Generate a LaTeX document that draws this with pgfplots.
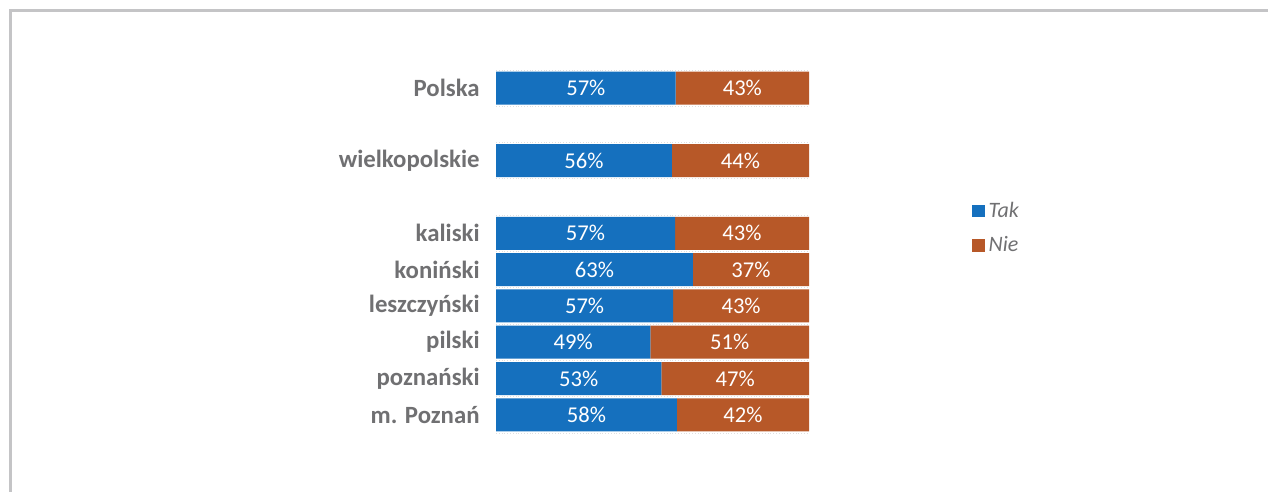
\documentclass[border=0pt]{standalone}
\usepackage{pgfplots}
\pgfplotsset{compat=1.18}
\usepackage{pgfplotstable}
\usepackage{fontspec}
\setmainfont{Carlito}
\definecolor{tak}{RGB}{21,112,190}
\definecolor{nie}{RGB}{183,88,40}
\definecolor{lab}{RGB}{112,112,114}
\definecolor{framec}{RGB}{196,196,198}
\pgfplotstableread{
y tak nie
9 57.4 42.6
7 56.2 43.8
5 57.2 42.8
4 62.9 37.1
3 56.6 43.4
2 49.3 50.7
1 52.8 47.2
0 57.8 42.2
}\data
\begin{document}
\begin{tikzpicture}[x=0.5pt,y=0.5pt]
\useasboundingbox (0,0) rectangle (1268,492);
\draw[framec, line width=1.5pt] (1290,481) -- (10,481) -- (10,-20);
\begin{axis}[
  at={(248pt,29.5pt)}, anchor=south west,
  scale only axis, width=156.5pt, height=181.5pt,
  xbar stacked, bar width=16.5pt,
  xmin=0, xmax=100, ymin=-0.5, ymax=9.5,
  xtick=\empty,
  ytick={0,1,2,3,4,5,7,9},
  yticklabels={m. Poznań, poznański, pilski, leszczyński, koniński, kaliski, wielkopolskie, Polska},
  yticklabel style={font=\bfseries\fontsize{12.4}{13}\selectfont, text=lab, inner sep=0pt, xshift=-8pt},
  minor ytick={-0.5,0.5,...,9.5},
  yminorgrids, minor grid style={densely dotted, gray!25},
  major tick length=0, minor tick length=0,
  axis line style={draw=none},
  /pgf/number format/assume math mode=true,
  point meta=rawx,
  nodes near coords={\pgfmathprintnumber[fixed,precision=0]{\pgfplotspointmeta}\%},
  every node near coord/.append style={anchor=center, text=white, font=\fontsize{11.3}{12}\selectfont},
  legend style={at={(1.50,0.66)}, anchor=north west, draw=none, fill=none, font=\itshape\fontsize{11}{12}\selectfont, text=lab, row sep=4pt, /tikz/every even column/.append style={column sep=2pt}},
  legend cell align=left,
  legend image code/.code={\fill[#1] (0pt,-3.2pt) rectangle (6.4pt,3.2pt);},
]
\addplot[fill=tak, draw=none] table[x=tak, y=y] {\data};
\addlegendentry{Tak}
\addplot[fill=nie, draw=none] table[x=nie, y=y] {\data};
\addlegendentry{Nie}
\end{axis}
\end{tikzpicture}
\end{document}
